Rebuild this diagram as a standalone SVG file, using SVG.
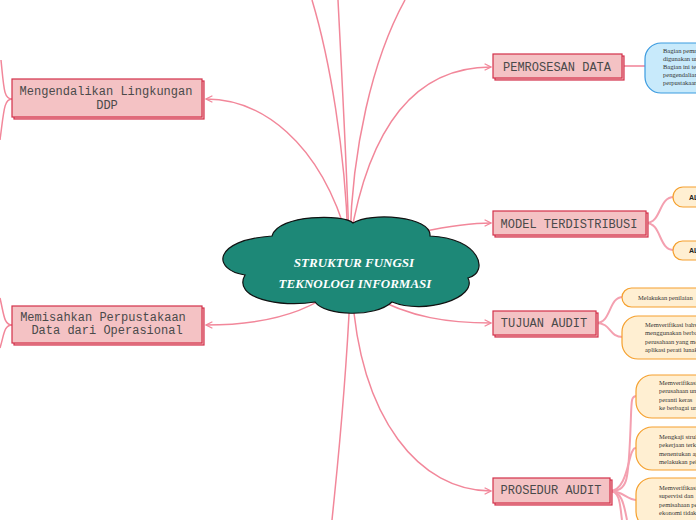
<svg xmlns="http://www.w3.org/2000/svg" width="696" height="520" viewBox="0 0 696 520">
<style>
.c{fill:none;stroke:#f2879a;stroke-width:1.5}
.lf{fill:none;stroke:#f4a0b0;stroke-width:2}
.box{fill:#f4c2c4;stroke:#d3304a;stroke-width:1.2}
.bt{font-family:"Liberation Mono",monospace;font-size:12px;fill:#4a4a4a;text-anchor:middle}
.leaf{fill:#ffefd2;stroke:#f5a02e;stroke-width:1.2}
.lt{font-family:"Liberation Serif",serif;font-size:6.5px;fill:#333}
</style>
<defs>
<marker id="arr" viewBox="0 0 10 10" refX="9" refY="5" markerWidth="8" markerHeight="8" markerUnits="userSpaceOnUse" orient="auto">
<path d="M1,1 L9,5 L1,9" fill="none" stroke="#f2879a" stroke-width="1.6"/>
</marker>
</defs>
<rect width="696" height="520" fill="#fff"/>
<g id="connectors">
<path class="c" d="M348,240 C345,150 330,60 312,0"/>
<path class="c" d="M349,240 C346,150 341,60 338,0"/>
<path class="c" d="M350,240 C352,150 372,60 405,0"/>
<path class="c" d="M350,240 C370,120 420,67 491,67" marker-end="url(#arr)"/>
<path class="c" d="M420,232 C450,226 470,223 491,223" marker-end="url(#arr)"/>
<path class="c" d="M370,295 C410,318 450,323 491,323" marker-end="url(#arr)"/>
<path class="c" d="M352,290 C360,420 420,491 491,491" marker-end="url(#arr)"/>
<path class="c" d="M350,295 C345,400 338,460 332,520"/>
<path class="c" d="M348,240 C320,140 260,99 206,99" marker-end="url(#arr)"/>
<path class="c" d="M335,290 C300,318 250,325 206,325" marker-end="url(#arr)"/>
<path class="c" d="M12,99 C4,99 4,90 1,60"/>
<path class="c" d="M12,99 C4,99 4,110 0,140"/>
<path class="c" d="M12,325 C4,325 4,315 0,298"/>
<path class="c" d="M12,325 C4,325 4,335 0,348"/>
<path class="lf" d="M622,66 L646,66"/>
<path class="lf" d="M646,223 C662,223 658,197 674,197"/>
<path class="lf" d="M646,223 C662,223 658,250 674,250"/>
<path class="lf" d="M596,323 C612,323 608,297 623,297"/>
<path class="lf" d="M596,323 C612,323 608,337 623,337"/>
<path class="lf" d="M610,491 C628,491 628,480 630,440 C632,400 630,396 637,396"/>
<path class="lf" d="M610,491 C626,491 628,460 632,452 C634,448 634,448 637,448"/>
<path class="lf" d="M610,491 C624,491 626,500 637,500"/>
<path class="lf" d="M610,491 C620,491 620,505 622,520"/>
<path class="lf" d="M610,491 C622,491 624,505 627,520"/>
</g>
<g id="center">
<path d="M245,275 C212,270 212,240 272,236 C278,214 345,214 353,223 C370,212 432,216 430,236 C480,238 490,272 468,278 C478,298 425,315 392,302 C375,318 325,316 315,302 C280,308 232,298 245,275 Z" fill="#1d8877" stroke="#111" stroke-width="1.2"/>
<text x="354" y="267" font-family="Liberation Serif,serif" font-style="italic" font-weight="bold" font-size="13" fill="#fff" text-anchor="middle">STRUKTUR FUNGSI</text>
<text x="355" y="288" font-family="Liberation Serif,serif" font-style="italic" font-weight="bold" font-size="13" fill="#fff" text-anchor="middle">TEKNOLOGI INFORMASI</text>
</g>
<g id="n-mengendalikan">
<rect class="box" x="14" y="81" width="190" height="38"/>
<rect class="box" x="12" y="79" width="190" height="38"/>
<text class="bt" x="106" y="95">Mengendalikan Lingkungan</text>
<text class="bt" x="107" y="109">DDP</text>
</g>
<g id="n-memisahkan">
<rect class="box" x="14" y="308" width="190" height="37"/>
<rect class="box" x="12" y="306" width="190" height="37"/>
<text class="bt" x="103" y="321">Memisahkan Perpustakaan</text>
<text class="bt" x="107" y="334">Data dari Operasional</text>
</g>
<g id="n-pemrosesan">
<rect class="box" x="495" y="56" width="129" height="24"/>
<rect class="box" x="493" y="54" width="129" height="24"/>
<text class="bt" x="557" y="71">PEMROSESAN DATA</text>
</g>
<g id="n-model">
<rect class="box" x="495" y="213" width="153" height="24"/>
<rect class="box" x="493" y="211" width="153" height="24"/>
<text class="bt" x="569" y="228">MODEL TERDISTRIBUSI</text>
</g>
<g id="n-tujuan">
<rect class="box" x="495" y="313" width="103" height="24"/>
<rect class="box" x="493" y="311" width="103" height="24"/>
<text class="bt" x="544" y="327">TUJUAN AUDIT</text>
</g>
<g id="n-prosedur">
<rect class="box" x="495" y="480" width="117" height="25"/>
<rect class="box" x="493" y="478" width="117" height="25"/>
<text class="bt" x="551" y="494">PROSEDUR AUDIT</text>
</g>
<g id="l-pemrosesan">
<rect x="645" y="43" width="90" height="50" rx="16" fill="#c8eafb" stroke="#3b9be0" stroke-width="1.2"/>
<text class="lt" x="663" y="53">Bagian pemrosesan</text>
<text class="lt" x="663" y="61">digunakan untuk</text>
<text class="lt" x="663" y="69">Bagian ini terdiri</text>
<text class="lt" x="663" y="77">pengendalian</text>
<text class="lt" x="663" y="85">perpustakaan</text>
</g>
<g id="l-model-1">
<rect class="leaf" x="673" y="187" width="60" height="20" rx="10"/>
<text x="689" y="200" font-family="Liberation Sans,sans-serif" font-weight="bold" font-size="7" fill="#222">AL</text>
</g>
<g id="l-model-2">
<rect class="leaf" x="673" y="241" width="60" height="19" rx="9.5"/>
<text x="689" y="253" font-family="Liberation Sans,sans-serif" font-weight="bold" font-size="7" fill="#222">AL</text>
</g>
<g id="l-tujuan-1">
<rect class="leaf" x="622" y="288" width="110" height="19" rx="9.5"/>
<text class="lt" x="638" y="300">Melakukan penilaian</text>
</g>
<g id="l-tujuan-2">
<rect class="leaf" x="622" y="316" width="110" height="43" rx="16"/>
<text class="lt" x="645" y="327">Memverifikasi bahwa</text>
<text class="lt" x="645" y="335">menggunakan berbagai</text>
<text class="lt" x="645" y="344">perusahaan yang memiliki</text>
<text class="lt" x="645" y="352">aplikasi perati lunak</text>
</g>
<g id="l-prosedur-1">
<rect class="leaf" x="636" y="375" width="100" height="43" rx="16"/>
<text class="lt" x="659" y="385">Memverifikasi</text>
<text class="lt" x="659" y="393">perusahaan untuk</text>
<text class="lt" x="659" y="402">peranti keras</text>
<text class="lt" x="659" y="410">ke berbagai unit</text>
</g>
<g id="l-prosedur-2">
<rect class="leaf" x="636" y="427" width="100" height="43" rx="16"/>
<text class="lt" x="659" y="439">Mengkaji struktur</text>
<text class="lt" x="659" y="447">pekerjaan terkait</text>
<text class="lt" x="659" y="456">menentukan apakah</text>
<text class="lt" x="659" y="464">melakukan pekerjaan</text>
</g>
<g id="l-prosedur-3">
<rect class="leaf" x="636" y="478" width="100" height="50" rx="16"/>
<text class="lt" x="659" y="490">Memverifikasi</text>
<text class="lt" x="659" y="498">supervisi dan</text>
<text class="lt" x="659" y="507">pemisahaan pekerjaan</text>
<text class="lt" x="659" y="515">ekonomi tidak</text>
</g>
</svg>
